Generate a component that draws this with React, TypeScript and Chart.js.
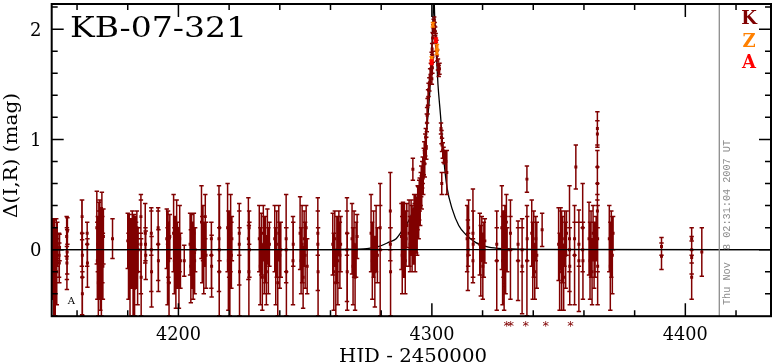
import { useEffect, useRef } from 'react';
import { Chart, registerables } from 'chart.js';

Chart.register(...registerables);

type P = [number, number, number]; // [HJD-2450000, delta mag, error]

const xMin = 4150;
const xMax = 4433.8;
const yMin = -0.603;
const yMax = 2.228;

const xMajorTicks = [4200, 4300, 4400];
const xTickLabels = ['4200', '4300', '4400'];
const xMinorTicks = [4160, 4180, 4220, 4240, 4260, 4280, 4320, 4340, 4360, 4380, 4420];
const yMajorTicks = [0, 1, 2];
const yTickLabels = ['0', '1', '2'];
const yMinorTicks = [-0.4, -0.2, 0.2, 0.4, 0.6, 0.8, 1.2, 1.4, 1.6, 1.8, 2.2];

const titleText = 'KB-07-321';
const xAxisTitle = 'HJD - 2450000';
const yAxisTitle = 'Δ(I,R) (mag)';
const stampText = 'Thu Nov  8 02:31:04 2007 UT';
const legendLabels = ['K', 'Z', 'A'];
const legendColors = ['#800000', '#ff8000', '#ff0000'];
const nowLineHjd = 4413.4;
const belowRangeHjd = [4329.5, 4331.1, 4337.0, 4344.9, 4354.7];
const noteLabel = { text: 'A', hjd: 4157.8, mag: -0.46 };

// model curve
const modelHjd = [4150, 4260, 4270, 4274.4, 4279.2, 4283.1, 4285.9, 4288.2, 4291.0, 4293.5, 4295.5, 4297.0, 4298.0, 4299.2, 4300.0, 4300.5, 4300.8, 4301.1, 4301.6, 4302.4, 4303.4, 4304.7, 4306.0, 4308.0, 4310.6, 4313.3, 4317.2, 4322.4, 4329.1, 4340, 4433.8];
const modelMag = [0, 0, 0.004, 0.009, 0.03, 0.068, 0.1, 0.17, 0.27, 0.42, 0.62, 0.85, 1.1, 1.44, 1.85, 2.12, 2.3, 2.12, 1.85, 1.5, 1.22, 0.82, 0.56, 0.37, 0.22, 0.14, 0.066, 0.023, 0.009, 0.003, 0];

const kEarly: P[] = [
  [4150.2, 0.1, 0.18], [4150.4, -0.15, 0.3], [4150.6, 0.05, 0.22], [4150.8, -0.3, 0.3], [4151.0, 0.12, 0.15], [4151.2, -0.05, 0.25], [4151.4, -0.35, 0.25], [4151.6, 0.0, 0.2], [4151.8, 0.1, 0.18], [4152.0, -0.2, 0.3], [4152.2, 0.05, 0.2],
  [4152.9, -0.05, 0.2], [4153.0, -0.12, 0.18], [4153.1, 0.02, 0.12],
  [4155.9, 0.12, 0.18], [4156.0, -0.08, 0.28], [4156.1, -0.02, 0.2], [4156.2, 0.17, 0.12], [4156.0, -0.12, 0.15],
  [4161.9, 0.15, 0.3], [4162.0, -0.25, 0.34], [4162.1, -0.05, 0.2], [4162.0, 0.3, 0.15], [4162.1, -0.4, 0.2],
  [4164.0, 0.05, 0.2], [4164.1, -0.12, 0.22], [4164.0, 0.15, 0.1],
  [4167.8, 0.2, 0.33], [4168.0, -0.1, 0.35], [4168.2, 0.05, 0.25], [4168.4, -0.3, 0.3], [4168.6, 0.15, 0.28], [4168.8, -0.05, 0.4], [4169.0, 0.25, 0.2], [4169.2, -0.2, 0.35], [4169.4, 0.08, 0.3], [4169.6, -0.35, 0.25], [4169.8, 0.3, 0.22], [4170.0, 0.0, 0.3], [4170.2, -0.15, 0.3], [4170.4, 0.12, 0.25],
  [4174.0, 0.1, 0.18],
  [4180.0, 0.08, 0.25], [4180.3, -0.15, 0.3], [4180.6, 0.12, 0.2], [4180.9, -0.3, 0.32], [4181.2, 0.0, 0.28], [4181.5, -0.1, 0.25], [4181.8, 0.15, 0.2], [4182.1, -0.2, 0.4], [4182.4, 0.1, 0.22], [4182.7, -0.35, 0.25], [4183.0, 0.05, 0.25], [4183.3, -0.05, 0.3], [4183.6, 0.2, 0.15], [4183.9, -0.2, 0.3], [4184.1, 0.0, 0.2],
  [4185.2, 0.05, 0.45], [4185.3, -0.25, 0.35], [4185.2, 0.3, 0.15],
  [4186.9, 0.15, 0.27], [4187.1, -0.05, 0.22], [4187.0, 0.05, 0.15],
  [4189.3, 0.0, 0.38], [4189.4, -0.2, 0.32], [4189.3, 0.15, 0.2],
  [4192.0, 0.05, 0.33], [4192.1, -0.1, 0.28], [4192.0, 0.2, 0.15],
  [4195.4, 0.1, 0.27], [4195.7, -0.15, 0.35], [4196.0, 0.0, 0.25], [4196.3, -0.3, 0.3], [4196.6, 0.12, 0.2], [4195.9, 0.2, 0.15], [4196.2, -0.1, 0.2],
  [4198.1, 0.15, 0.35], [4198.4, -0.1, 0.3], [4198.7, 0.05, 0.25], [4199.0, -0.25, 0.28], [4199.3, 0.2, 0.25], [4199.6, -0.05, 0.3], [4199.9, 0.0, 0.2], [4200.2, -0.3, 0.23], [4200.5, 0.1, 0.3], [4200.8, -0.1, 0.25],
  [4202.3, -0.1, 0.14],
  [4204.6, 0.05, 0.28], [4204.9, -0.15, 0.33], [4205.2, 0.1, 0.22], [4205.5, -0.05, 0.3], [4205.8, -0.2, 0.25], [4206.1, 0.15, 0.18], [4206.4, -0.1, 0.3], [4206.6, 0.0, 0.2],
  [4209.1, 0.25, 0.33], [4209.4, 0.0, 0.3], [4209.7, 0.15, 0.25], [4210.0, -0.1, 0.3], [4210.3, 0.05, 0.2], [4210.6, 0.3, 0.2], [4210.9, -0.05, 0.3],
  [4213.0, -0.05, 0.3], [4213.1, -0.15, 0.28], [4213.0, 0.1, 0.15],
  [4216.0, 0.1, 0.48], [4216.1, -0.2, 0.4], [4216.2, 0.2, 0.3], [4216.1, 0.0, 0.2],
  [4219.4, 0.2, 0.4], [4219.7, -0.1, 0.45], [4220.0, 0.05, 0.3], [4220.3, -0.25, 0.35], [4220.6, 0.15, 0.35], [4220.9, -0.05, 0.3], [4221.1, 0.1, 0.2],
  [4224.0, 0.05, 0.37], [4224.1, -0.2, 0.4], [4224.0, 0.15, 0.2],
  [4227.6, 0.1, 0.37], [4227.8, -0.2, 0.42], [4228.0, 0.0, 0.25], [4227.9, 0.2, 0.15],
  [4231.9, 0.1, 0.3], [4232.3, -0.15, 0.35], [4232.7, 0.05, 0.28], [4233.1, -0.25, 0.3], [4233.5, 0.15, 0.25], [4233.9, -0.05, 0.35], [4234.3, 0.0, 0.3], [4234.7, -0.2, 0.3], [4235.1, 0.12, 0.25], [4235.5, -0.1, 0.3], [4235.9, 0.05, 0.2],
  [4238.0, 0.1, 0.3], [4238.4, -0.15, 0.35], [4238.8, 0.05, 0.3], [4239.2, -0.3, 0.3], [4239.6, 0.15, 0.25], [4240.0, -0.05, 0.3], [4240.4, 0.0, 0.25],
  [4242.5, 0.1, 0.4], [4242.6, -0.2, 0.4], [4242.5, 0.0, 0.2],
  [4245.2, -0.1, 0.4], [4245.3, 0.05, 0.2],
  [4248.0, 0.15, 0.33], [4248.4, -0.1, 0.3], [4248.8, 0.05, 0.35], [4249.2, -0.25, 0.28], [4249.6, 0.1, 0.25], [4250.0, -0.05, 0.3], [4250.4, 0.2, 0.2], [4250.8, -0.15, 0.25],
  [4255.0, 0.05, 0.42], [4255.1, -0.2, 0.4], [4255.0, 0.15, 0.2],
  [4260.9, 0.05, 0.28], [4261.3, -0.2, 0.35], [4261.7, 0.1, 0.25], [4262.1, -0.3, 0.3], [4262.5, 0.0, 0.3], [4262.9, -0.1, 0.4], [4263.3, 0.15, 0.2], [4263.7, -0.05, 0.3], [4264.0, 0.05, 0.25],
  [4266.5, 0.0, 0.47], [4266.6, -0.2, 0.35], [4266.5, 0.15, 0.2],
  [4268.5, 0.1, 0.32], [4268.9, -0.15, 0.35], [4269.3, 0.05, 0.3], [4269.7, -0.25, 0.3], [4270.1, 0.0, 0.25], [4270.5, 0.12, 0.2],
  [4276.0, 0.15, 0.35], [4276.5, -0.1, 0.35], [4277.0, 0.05, 0.3], [4277.5, -0.2, 0.32], [4278.0, 0.1, 0.3], [4278.5, -0.05, 0.25],
  [4279.6, 0.0, 0.6], [4279.6, 0.2, 0.2],
  [4283.6, 0.35, 0.35], [4283.7, -0.2, 0.4], [4283.6, 0.05, 0.15],
];

const kRise: P[] = [
  [4288.0, 0.12, 0.3], [4288.3, -0.05, 0.35], [4288.6, 0.18, 0.25], [4288.9, 0.05, 0.3], [4289.2, 0.2, 0.22], [4289.5, -0.1, 0.3], [4289.8, 0.1, 0.25], [4290.1, 0.22, 0.2],
  [4291.0, 0.15, 0.3], [4291.4, 0.05, 0.25], [4291.8, 0.2, 0.25], [4292.5, 0.73, 0.1], [4292.2, 0.1, 0.3],
  [4292.8, 0.12, 0.25], [4293.0, 0.25, 0.25], [4293.2, 0.2, 0.22], [4293.4, 0.05, 0.25], [4293.6, 0.3, 0.2], [4293.8, 0.22, 0.25], [4294.0, 0.28, 0.18], [4294.2, 0.15, 0.2], [4294.4, 0.38, 0.2],
  [4294.6, 0.42, 0.15], [4294.8, 0.3, 0.2], [4295.0, 0.45, 0.18], [4295.2, 0.5, 0.15], [4295.4, 0.4, 0.18], [4295.6, 0.55, 0.15], [4295.8, 0.62, 0.14], [4296.0, 0.52, 0.15], [4296.2, 0.68, 0.12],
  [4296.4, 0.72, 0.12], [4296.6, 0.65, 0.15], [4296.8, 0.8, 0.12], [4297.0, 0.88, 0.1], [4297.2, 0.78, 0.12], [4297.4, 0.95, 0.1], [4297.6, 1.02, 0.08], [4297.8, 0.92, 0.1], [4298.0, 1.15, 0.08],
  [4298.1, 1.22, 0.07], [4298.3, 1.3, 0.07], [4298.5, 1.38, 0.07], [4298.7, 1.45, 0.06], [4299.0, 1.5, 0.06], [4299.3, 1.58, 0.06], [4299.6, 1.64, 0.05],
];

const kPeak: P[] = [
  [4299.9, 1.74, 0.05], [4300.0, 1.55, 0.05], [4300.1, 1.82, 0.05], [4300.2, 1.65, 0.05], [4300.3, 1.92, 0.05], [4300.4, 1.75, 0.05],
  [4300.5, 2.0, 0.04], [4300.7, 2.05, 0.04], [4300.9, 2.07, 0.04], [4301.1, 2.02, 0.04], [4301.3, 1.98, 0.04], [4301.5, 1.92, 0.04],
  [4301.8, 1.85, 0.05], [4302.1, 1.76, 0.05], [4302.4, 1.68, 0.05], [4302.7, 1.62, 0.05], [4303.0, 1.64, 0.05],
];

const kFall: P[] = [
  [4303.6, 1.1, 0.05], [4303.8, 1.02, 0.06], [4304.0, 0.95, 0.06], [4304.3, 0.9, 0.07], [4304.6, 0.86, 0.07], [4305.0, 0.84, 0.06],
  [4303.9, 0.6, 0.1], [4305.5, 0.8, 0.1], [4305.9, 0.7, 0.2],
  [4313.9, 0.1, 0.3], [4314.2, -0.05, 0.32], [4314.5, 0.2, 0.25], [4314.3, 0.0, 0.15],
  [4316.2, 0.15, 0.4], [4316.3, 0.05, 0.3], [4316.2, -0.1, 0.2],
  [4318.9, 0.05, 0.28], [4319.3, -0.1, 0.32], [4319.7, 0.1, 0.2], [4320.1, -0.15, 0.3], [4320.5, 0.0, 0.25], [4320.9, 0.08, 0.2],
  [4325.6, -0.1, 0.45], [4325.6, 0.05, 0.15],
];

const kLate: P[] = [
  [4327.6, 0.2, 0.38], [4327.9, -0.1, 0.4], [4328.2, 0.05, 0.3], [4328.5, -0.25, 0.3], [4328.8, 0.1, 0.3], [4329.1, -0.05, 0.35], [4329.4, 0.25, 0.25], [4329.7, 0.0, 0.2],
  [4331.0, 0.0, 0.45], [4331.0, 0.15, 0.15],
  [4334.0, -0.1, 0.36], [4334.0, 0.05, 0.15],
  [4335.6, -0.15, 0.43], [4335.6, 0.0, 0.2],
  [4337.5, 0.64, 0.12], [4337.5, -0.1, 0.5], [4337.6, 0.1, 0.2],
  [4339.4, 0.15, 0.3], [4339.8, -0.1, 0.35], [4340.2, 0.05, 0.3], [4340.6, -0.2, 0.25], [4341.0, 0.1, 0.2], [4341.4, -0.05, 0.3],
  [4343.5, 0.18, 0.15],
  [4350.0, 0.05, 0.33], [4350.4, -0.2, 0.35], [4350.8, 0.1, 0.28], [4351.2, -0.1, 0.45], [4351.6, 0.0, 0.3], [4352.0, -0.25, 0.3], [4352.4, 0.1, 0.25], [4352.8, -0.05, 0.3], [4353.1, 0.15, 0.2],
  [4354.3, 0.1, 0.48], [4354.4, -0.15, 0.35], [4354.3, 0.0, 0.2],
  [4356.3, -0.05, 0.45], [4356.3, 0.1, 0.15],
  [4356.8, 0.75, 0.2],
  [4358.0, -0.1, 0.46], [4358.0, 0.05, 0.2],
  [4359.5, 0.2, 0.4], [4359.6, -0.1, 0.35], [4359.5, 0.0, 0.2],
  [4362.0, 0.1, 0.33], [4362.4, -0.1, 0.35], [4362.8, 0.05, 0.3], [4363.2, -0.2, 0.3], [4363.6, 0.15, 0.25], [4364.0, -0.05, 0.3], [4364.4, 0.0, 0.25], [4364.8, 0.1, 0.2],
  [4365.3, 1.1, 0.15], [4365.3, 1.05, 0.12], [4365.3, 0.75, 0.15], [4365.3, 0.6, 0.15], [4365.4, 0.1, 0.3], [4365.4, -0.15, 0.35], [4365.3, 0.35, 0.15],
  [4370.0, 0.1, 0.3], [4370.4, -0.15, 0.4], [4370.8, 0.05, 0.3], [4371.2, -0.05, 0.35], [4371.5, 0.15, 0.15],
  [4390.6, 0.03, 0.08], [4390.6, -0.06, 0.12],
  [4402.5, 0.1, 0.1], [4402.5, 0.0, 0.12], [4402.5, -0.07, 0.15], [4402.5, -0.25, 0.2],
  [4406.5, -0.02, 0.22],
];

const zPoints: P[] = [[4300.4, 2.04, 0.02], [4299.9, 1.73, 0.02], [4302.0, 1.84, 0.02], [4302.0, 1.79, 0.02]];
const aPoints: P[] = [[4301.6, 1.9, 0.02], [4299.9, 1.7, 0.02]];

const toPts = (arr: P[]) => arr.map(([x, y, e]) => ({ x, y, e }));

const SERIF = '"DejaVu Serif", serif';

function scaledText(ctx: CanvasRenderingContext2D, text: string, x: number, y: number, width: number) {
  const w = ctx.measureText(text).width;
  ctx.save();
  ctx.translate(x, y);
  ctx.scale(width / w, 1);
  ctx.fillText(text, 0, 0);
  ctx.restore();
}

const errorBarPlugin = {
  id: 'errbars',
  beforeDatasetDraw(chart: any, args: any) {
    const ds = chart.data.datasets[args.index];
    if (!ds.errorBars) return;
    const { ctx, chartArea: a } = chart;
    const xs = chart.scales.x, ys = chart.scales.y;
    ctx.save();
    ctx.beginPath();
    ctx.rect(a.left, a.top, a.right - a.left, a.bottom - a.top);
    ctx.clip();
    ctx.strokeStyle = ds.backgroundColor;
    ctx.lineWidth = 1.5;
    ctx.beginPath();
    for (const p of ds.data) {
      const px = xs.getPixelForValue(p.x);
      const t = ys.getPixelForValue(p.y + p.e);
      const b = ys.getPixelForValue(p.y - p.e);
      ctx.moveTo(px, t); ctx.lineTo(px, b);
      ctx.moveTo(px - 2.2, t); ctx.lineTo(px + 2.2, t);
      ctx.moveTo(px - 2.2, b); ctx.lineTo(px + 2.2, b);
    }
    ctx.stroke();
    ctx.restore();
  },
};

const framePlugin = {
  id: 'frame',
  afterDatasetsDraw(chart: any) {
    const { ctx, chartArea: a } = chart;
    const xs = chart.scales.x, ys = chart.scales.y;
    ctx.save();
    // zero line
    ctx.strokeStyle = '#000';
    ctx.lineWidth = 1.3;
    const y0 = ys.getPixelForValue(0);
    ctx.beginPath(); ctx.moveTo(a.left, y0); ctx.lineTo(a.right, y0); ctx.stroke();
    // gray "now" line
    ctx.strokeStyle = '#8c8c8c';
    ctx.lineWidth = 1.3;
    const xn = xs.getPixelForValue(nowLineHjd);
    ctx.beginPath(); ctx.moveTo(xn, a.top); ctx.lineTo(xn, a.bottom); ctx.stroke();
    // frame
    ctx.strokeStyle = '#000';
    ctx.lineWidth = 2;
    ctx.strokeRect(a.left, a.top, a.right - a.left, a.bottom - a.top);
    // ticks
    ctx.lineWidth = 1.5;
    ctx.beginPath();
    const xt = (v: number, len: number) => {
      const p = xs.getPixelForValue(v);
      ctx.moveTo(p, a.bottom); ctx.lineTo(p, a.bottom - len);
      ctx.moveTo(p, a.top); ctx.lineTo(p, a.top + len);
    };
    const yt = (v: number, len: number) => {
      const p = ys.getPixelForValue(v);
      ctx.moveTo(a.left, p); ctx.lineTo(a.left + len, p);
      ctx.moveTo(a.right, p); ctx.lineTo(a.right - len, p);
    };
    xMajorTicks.forEach((v) => xt(v, 13));
    xMinorTicks.forEach((v) => xt(v, 6));
    yMajorTicks.forEach((v) => yt(v, 12));
    yMinorTicks.forEach((v) => yt(v, 6));
    ctx.stroke();

    // tick labels
    ctx.fillStyle = '#000';
    ctx.font = `18px ${SERIF}`;
    ctx.textBaseline = 'alphabetic';
    ctx.textAlign = 'left';
    xMajorTicks.forEach((v, i) => scaledText(ctx, xTickLabels[i], xs.getPixelForValue(v) - 22.5, 339.5, 45));
    ctx.textAlign = 'right';
    yMajorTicks.forEach((v, i) => ctx.fillText(yTickLabels[i], 41.5, ys.getPixelForValue(v) + 6.5));

    // axis titles
    ctx.textAlign = 'left';
    ctx.font = `18px ${SERIF}`;
    scaledText(ctx, xAxisTitle, 339, 362, 148);
    ctx.save();
    ctx.translate(17, 218);
    ctx.rotate(-Math.PI / 2);
    scaledText(ctx, yAxisTitle, 0, 0, 125);
    ctx.restore();

    // title
    ctx.font = `28px ${SERIF}`;
    scaledText(ctx, titleText, 70, 37, 177);

    // legend
    ctx.font = `bold 18px ${SERIF}`;
    ctx.textAlign = 'center';
    const lb = [24, 47, 68];
    legendLabels.forEach((t, i) => {
      ctx.fillStyle = legendColors[i];
      ctx.fillText(t, 749, lb[i]);
    });

    // timestamp
    ctx.fillStyle = '#8c8c8c';
    ctx.font = '10.5px "Liberation Mono", monospace';
    ctx.textAlign = 'left';
    ctx.save();
    ctx.translate(730, 305);
    ctx.rotate(-Math.PI / 2);
    scaledText(ctx, stampText, 0, 0, 165);
    ctx.restore();

    // below-range markers
    ctx.fillStyle = '#800000';
    ctx.font = '13px "DejaVu Sans", sans-serif';
    ctx.textAlign = 'center';
    belowRangeHjd.forEach((h) => ctx.fillText('*', xs.getPixelForValue(h), 330));

    // note label
    ctx.fillStyle = '#000';
    ctx.font = `10px ${SERIF}`;
    ctx.fillText(noteLabel.text, xs.getPixelForValue(noteLabel.hjd), ys.getPixelForValue(noteLabel.mag) + 4);
    ctx.restore();
  },
};

export default function App() {
  const ref = useRef<HTMLCanvasElement | null>(null);
  useEffect(() => {
    if (!ref.current) return;
    const chart = new Chart(ref.current, {
      type: 'scatter',
      data: {
        datasets: [
          { label: 'A', data: toPts(aPoints), backgroundColor: legendColors[2], pointStyle: 'rect', pointRadius: 2.6, borderWidth: 0, errorBars: true } as any,
          { label: 'Z', data: toPts(zPoints), backgroundColor: legendColors[1], pointStyle: 'rect', pointRadius: 2.2, borderWidth: 0, errorBars: true } as any,
          { label: 'K', data: toPts([...kEarly, ...kRise, ...kPeak, ...kFall, ...kLate]), backgroundColor: legendColors[0], pointStyle: 'rect', pointRadius: 2.1, borderWidth: 0, errorBars: true } as any,
          { label: 'model', data: modelHjd.map((x, i) => ({ x, y: modelMag[i] })), showLine: true, borderColor: '#000', borderWidth: 1.3, pointRadius: 0, cubicInterpolationMode: 'monotone' } as any,
        ],
      },
      options: {
        animation: false,
        responsive: false,
        devicePixelRatio: 1,
        layout: { padding: { left: 51.7, right: 2, top: 2, bottom: 45.8 } },
        plugins: { legend: { display: false }, tooltip: { enabled: false }, title: { display: false } },
        events: [],
        scales: {
          x: { type: 'linear', min: xMin, max: xMax, display: false },
          y: { type: 'linear', min: yMin, max: yMax, display: false },
        },
      },
      plugins: [errorBarPlugin, framePlugin],
    });
    return () => chart.destroy();
  }, []);
  return (
    <div style={{ position: 'fixed', left: 0, top: 0, width: 775, height: 362, background: '#fff' }}>
      <canvas ref={ref} width={775} height={362} style={{ display: 'block' }} />
    </div>
  );
}
